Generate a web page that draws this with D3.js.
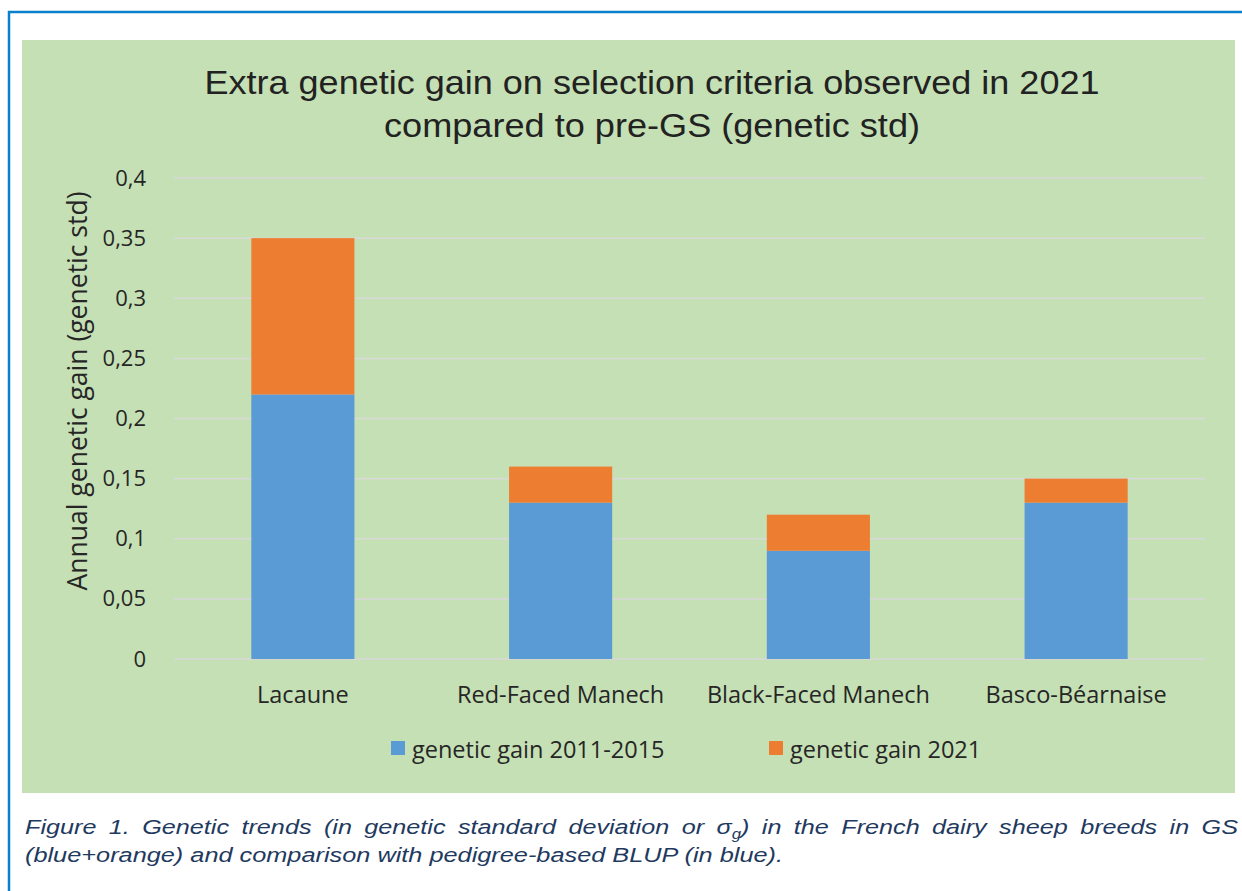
<!DOCTYPE html>
<html>
<head>
<meta charset="utf-8">
<script src="https://cdn.jsdelivr.net/npm/d3@7"></script>
<style>
  body { margin: 0; background: #fff; }
</style>
</head>
<body>
<div class="board"></div>
<script>
// data
let breeds = ['Lacaune', 'Red-Faced Manech', 'Black-Faced Manech', 'Basco-Béarnaise'];
let gain20112015 = [0.22, 0.13, 0.09, 0.13];
let gain2021 = [0.13, 0.03, 0.03, 0.02];
let seriesNames = ['genetic gain 2011-2015', 'genetic gain 2021'];
let seriesColors = ['#5b9bd5', '#ed7d31'];
let yTicks = [0, 0.05, 0.1, 0.15, 0.2, 0.25, 0.3, 0.35, 0.4];

let svg = d3.select('.board').append('svg')
    .attr('width', 1242)
    .attr('height', 891);

// outer frame + green panel
svg.append('rect').attr('x', 9).attr('y', 12).attr('width', 1250).attr('height', 900)
    .attr('fill', 'none').attr('stroke', '#0a7fcc').attr('stroke-width', 2.5);
svg.append('rect').attr('x', 22).attr('y', 40).attr('width', 1213).attr('height', 753)
    .attr('fill', '#c5e0b4');

/////// SCALES ///////////////////////////////////////
let x = d3.scaleBand().domain(breeds).range([174, 1205]).paddingInner(0.6).paddingOuter(0.3);
let y = d3.scaleLinear().domain([0, 0.4]).range([659, 178]);

// grid
svg.append('g').selectAll('line').data(yTicks).enter().append('line')
    .attr('x1', 174).attr('x2', 1205)
    .attr('y1', d => y(d)).attr('y2', d => y(d))
    .attr('stroke', '#d9d9d9').attr('stroke-width', 1.5);

// y axis labels
let fmt = d => String(d).replace('.', ',');
let yAxis = svg.append('g').attr('transform', 'translate(146,0)')
    .call(d3.axisLeft(y).tickValues(yTicks).tickFormat(fmt).tickSize(0).tickPadding(0));
yAxis.select('.domain').remove();
yAxis.selectAll('text')
    .attr('font-family', 'Open Sans, sans-serif').attr('font-size', 22).attr('fill', '#262626');

// stacked bars
let stackData = breeds.map((b, i) => ({ breed: b, a: gain20112015[i], b: gain2021[i] }));
let stacked = d3.stack().keys(['a', 'b'])(stackData);
svg.append('g').selectAll('g').data(stacked).enter().append('g')
    .attr('fill', (d, i) => seriesColors[i])
  .selectAll('rect').data(d => d).enter().append('rect')
    .attr('x', d => x(d.data.breed))
    .attr('width', x.bandwidth())
    .attr('y', d => y(d[1]))
    .attr('height', d => y(d[0]) - y(d[1]));

// x axis labels
let xAxis = svg.append('g').attr('transform', 'translate(0,703)')
    .call(d3.axisBottom(x).tickSize(0).tickPadding(0));
xAxis.select('.domain').remove();
xAxis.selectAll('text')
    .attr('font-family', 'Open Sans, sans-serif').attr('font-size', 23.5).attr('fill', '#262626')
    .attr('y', 0).attr('dy', 0);

// y axis title
svg.append('text')
    .attr('transform', 'translate(87,391) rotate(-90)')
    .attr('text-anchor', 'middle')
    .attr('font-family', 'Open Sans, sans-serif').attr('font-size', 26.5).attr('fill', '#262626')
    .text('Annual genetic gain (genetic std)');

// title
let title = svg.append('g')
    .attr('text-anchor', 'middle')
    .attr('font-family', 'Liberation Sans, Arial, sans-serif').attr('font-size', 33).attr('fill', '#222');
title.append('text').attr('x', 652).attr('y', 94).attr('textLength', 895).attr('lengthAdjust', 'spacingAndGlyphs')
    .text('Extra genetic gain on selection criteria observed in 2021');
title.append('text').attr('x', 652).attr('y', 137).attr('textLength', 536).attr('lengthAdjust', 'spacingAndGlyphs')
    .text('compared to pre-GS (genetic std)');

// legend
let legendX = [391, 769];
let legend = svg.append('g').selectAll('g').data(seriesNames).enter().append('g')
    .attr('transform', (d, i) => `translate(${legendX[i]},741)`);
legend.append('rect').attr('width', 14).attr('height', 14).attr('fill', (d, i) => seriesColors[i]);
legend.append('text').attr('x', 21).attr('y', 16.5)
    .attr('font-family', 'Open Sans, sans-serif').attr('font-size', 23.5).attr('fill', '#262626')
    .text(d => d);

// caption (glyphs stretched wide like the original, line 1 justified)
let stretch = 1.2;
let cap = svg.append('g')
    .attr('font-family', 'Liberation Sans, Arial, sans-serif').attr('font-size', 21)
    .attr('font-style', 'italic').attr('fill', '#1f3a60');
let l1 = cap.append('text').attr('transform', `translate(25,834) scale(${stretch},1)`);
l1.append('tspan').text('Figure 1. Genetic trends (in genetic standard deviation or σ');
l1.append('tspan').attr('font-size', 14).attr('dy', 5).text('g');
l1.append('tspan').attr('dy', -5).text(') in the French dairy sheep breeds in GS');
let natural = l1.node().getComputedTextLength();
let gaps = l1.text().split(' ').length - 1;
l1.attr('word-spacing', (1213 / stretch - natural) / gaps);
let l2 = cap.append('text').attr('transform', `translate(25,862) scale(${stretch},1)`)
    .text('(blue+orange) and comparison with pedigree-based BLUP (in blue).');
l2.attr('textLength', 758 / stretch).attr('lengthAdjust', 'spacingAndGlyphs');
</script>
</body>
</html>
